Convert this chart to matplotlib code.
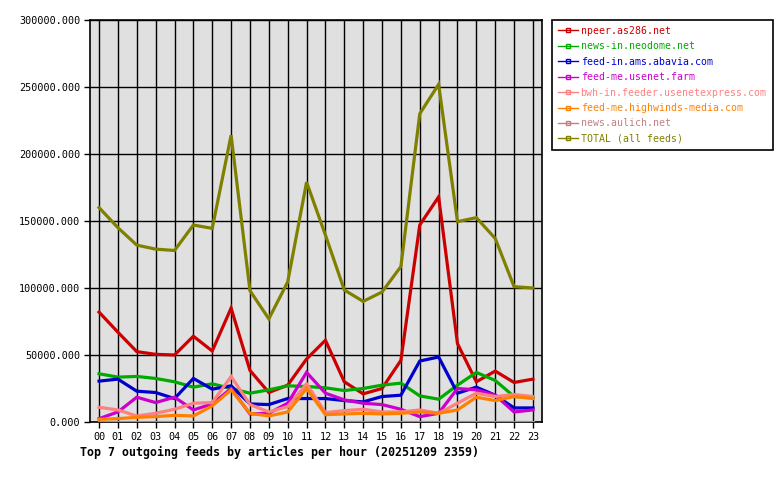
import matplotlib
matplotlib.use("Agg")
import matplotlib.pyplot as plt
from matplotlib.lines import Line2D

hours = ["%02d" % h for h in range(24)]

npeer = [82000, 67000, 52500, 50500, 50000, 64000, 53000, 85000, 38500, 22000, 27500, 47000,
         61000, 30000, 21000, 25000, 46000, 147000, 168000, 58500, 30000, 38000, 29500, 32000]
neodome = [36000, 33500, 34000, 32500, 30000, 26000, 28500, 25000, 21500, 24000, 27000, 26500,
           25500, 23500, 25000, 27500, 29000, 19500, 17000, 27500, 37000, 31000, 19000, 18500]
abavia = [30500, 32000, 23000, 22000, 17500, 32500, 24500, 27000, 13500, 13000, 17500, 17500,
          17500, 16000, 15000, 19000, 20000, 45500, 48500, 21500, 26000, 20000, 10500, 10500]
usenetfarm = [2500, 7500, 18500, 14500, 18500, 9000, 13500, 25000, 6000, 6500, 14000, 37000,
              21500, 16500, 14000, 13000, 9500, 4000, 6500, 25000, 24000, 20000, 7500, 9000]
usenetexpress = [11000, 9000, 4500, 6500, 9500, 14000, 14500, 34000, 13000, 7500, 11500, 28500,
                 7000, 8500, 9500, 7500, 7500, 9000, 6500, 14000, 21500, 19000, 20500, 19000]
highwinds = [2000, 2500, 3500, 4000, 5000, 4500, 12000, 24000, 6500, 4500, 7500, 25000,
             5500, 6000, 6500, 6000, 6500, 7500, 6500, 9000, 18500, 16000, 19000, 17500]
aulich = [300] * 24
total = [160000, 145000, 132000, 129000, 128000, 147000, 144500, 214000, 98000, 77000, 104500, 179000,
         139500, 98500, 90000, 97000, 116000, 230000, 252000, 149500, 152500, 137000, 101000, 100000]

series = [
    ("npeer.as286.net", npeer, "#cc0000"),
    ("news-in.neodome.net", neodome, "#00aa00"),
    ("feed-in.ams.abavia.com", abavia, "#0000cc"),
    ("feed-me.usenet.farm", usenetfarm, "#cc00cc"),
    ("bwh-in.feeder.usenetexpress.com", usenetexpress, "#ff8080"),
    ("feed-me.highwinds-media.com", highwinds, "#ff8000"),
    ("news.aulich.net", aulich, "#c08080"),
    ("TOTAL (all feeds)", total, "#808000"),
]

plt.rcParams['font.family'] = ['DejaVu Sans Mono']

fig = plt.figure(figsize=(7.8, 4.8), dpi=100)
ax = fig.add_axes([90/780, 58/480, 452/780, 402/480])
ax.set_facecolor("#e0e0e0")

x = list(range(24))
handles = []
for name, vals, col in series:
    ax.plot(x, vals, color=col, lw=2.3, solid_joinstyle='miter', zorder=3)
    handles.append(Line2D([], [], color=col, lw=1, marker='s', markersize=2.5,
                          markerfacecolor='none', markeredgecolor=col, label=name))

ax.set_xlim(-0.48, 23.48)
ax.set_ylim(0, 300000)
ax.set_xticks(x)
ax.set_xticklabels(hours, fontsize=7.3)
ax.set_yticks(range(0, 300001, 50000))
ax.set_yticklabels(["%d.000" % v for v in range(0, 300001, 50000)], fontsize=7.3)
ax.grid(True, color="black", lw=1, zorder=1)
ax.set_axisbelow(True)
ax.tick_params(axis='both', direction='out', length=4, width=1, colors='black', pad=3)
for s in ax.spines.values():
    s.set_linewidth(1.2)

leg = ax.legend(handles=handles, loc='upper left', bbox_to_anchor=(552/780, 1-20/480),
                bbox_transform=fig.transFigure, borderaxespad=0, fontsize=7.1,
                frameon=True, fancybox=False, edgecolor='black', framealpha=1,
                handlelength=2.0, handletextpad=0.3, labelspacing=0.55,
                borderpad=0.6, labelcolor='linecolor')
leg.get_frame().set_linewidth(1.2)

fig.text(80/780, 1-452/480, "Top 7 outgoing feeds by articles per hour (20251209 2359)",
         fontsize=8.4, fontweight='bold', ha='left', va='center')

fig.savefig("out.png", dpi=100)
